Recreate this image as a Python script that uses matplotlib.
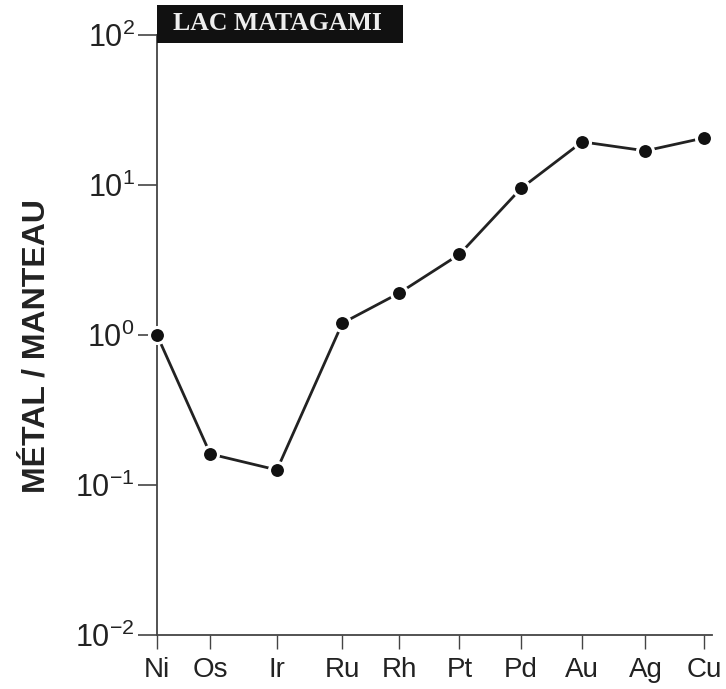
import matplotlib
matplotlib.use("Agg")
import matplotlib.pyplot as plt
from matplotlib.patches import Rectangle
from matplotlib.ticker import NullLocator, FixedLocator, FixedFormatter

plt.rcParams['font.family'] = ['Liberation Sans', 'DejaVu Sans']
plt.rcParams['mathtext.fontset'] = 'custom'
plt.rcParams['mathtext.rm'] = 'Liberation Sans'
plt.rcParams['mathtext.it'] = 'Liberation Sans'
plt.rcParams['mathtext.default'] = 'regular'

elements = ["Ni", "Os", "Ir", "Ru", "Rh", "Pt", "Pd", "Au", "Ag", "Cu"]
xpos = [0.0, 0.96, 2.16, 3.34, 4.36, 5.45, 6.56, 7.66, 8.80, 9.86]
values = [1.0, 0.161, 0.126, 1.2, 1.9, 3.45, 9.5, 19.4, 16.9, 20.6]
yticks = [1e-2, 1e-1, 1e0, 1e1, 1e2]
ytick_labels = ["$10^{-2}$", "$10^{-1}$", "$10^{0}$", "$10^{1}$", "$10^{2}$"]
ylabel = "MÉTAL / MANTEAU"
title = "LAC MATAGAMI"

fig = plt.figure(figsize=(7.26, 6.89), dpi=100)
ax = fig.add_axes([157/726, 1-635/689, (712-157)/726, 600/689])

ax.plot(xpos, values, color='#222222', lw=2.0, marker='o', markersize=11.5,
        markerfacecolor='#111111', markeredgecolor='white', markeredgewidth=2.2,
        clip_on=False, zorder=3)

ax.set_yscale('log')
ax.set_ylim(1e-2, 1e2)
ax.set_xlim(0, 10.0)
ax.yaxis.set_major_locator(FixedLocator(yticks))
ax.yaxis.set_major_formatter(FixedFormatter(ytick_labels))
ax.yaxis.set_minor_locator(NullLocator())
ax.set_xticks(xpos)
ax.set_xticklabels(elements)

for s in ['top', 'right']:
    ax.spines[s].set_visible(False)
for s in ['left', 'bottom']:
    ax.spines[s].set_color('#444444')
    ax.spines[s].set_linewidth(1.3)

ax.tick_params(axis='y', direction='out', length=14, width=1.2, color='#444444',
               labelsize=22, pad=2, labelcolor='#222222')
ax.tick_params(axis='x', direction='out', length=10, width=1.0, color='#444444',
               labelsize=20, pad=6, labelcolor='#222222')

fig.text(37/726, 1-346/689, ylabel, rotation=90, ha='center', va='center',
         fontsize=23, fontweight='bold', color='#222222')

# title box: x 157-403 px, y 5-43 px
ax.add_patch(Rectangle((0, (635-43)/600), (403-157)/555, 38/600, transform=ax.transAxes,
                       facecolor='#111111', edgecolor='none', clip_on=False, zorder=4))
ax.text((277-157)/555, (635-24)/600, title, transform=ax.transAxes, ha='center', va='center',
        fontsize=18.5, fontweight='bold', family='Liberation Serif', color='#eeeeee',
        zorder=5)

fig.savefig("out.png", dpi=100)
